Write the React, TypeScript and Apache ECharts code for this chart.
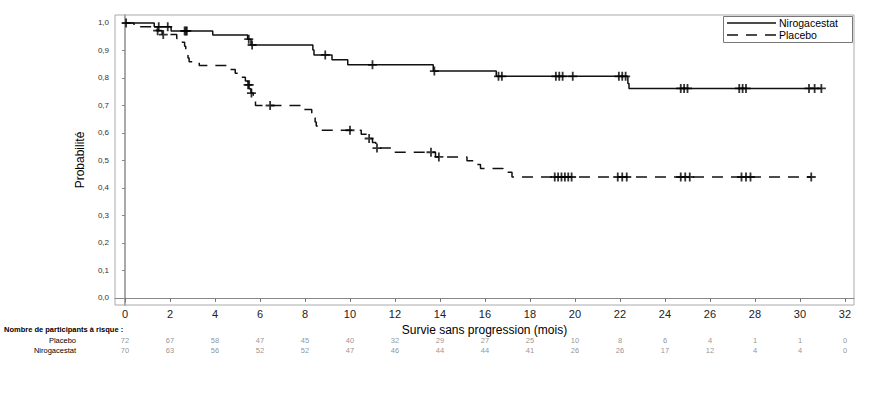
import React, { useEffect, useRef } from "react";
import * as echarts from "echarts";

const monthTicks = [0, 2, 4, 6, 8, 10, 12, 14, 16, 18, 20, 22, 24, 26, 28, 30, 32];
const probTicks = [0, 0.1, 0.2, 0.3, 0.4, 0.5, 0.6, 0.7, 0.8, 0.9, 1.0];

const riskPlacebo = [72, 67, 58, 47, 45, 40, 32, 29, 27, 25, 10, 8, 6, 4, 1, 1, 0];
const riskNiro = [70, 63, 56, 52, 52, 47, 46, 44, 44, 41, 26, 26, 17, 12, 4, 4, 0];

// Kaplan-Meier steps: [time (months), survival after the step]
const niroSteps: [number, number][] = [
  [0, 1.0], [1.3, 0.986], [2.05, 0.971], [3.9, 0.956], [5.45, 0.941], [5.6, 0.92],
  [8.35, 0.902], [8.4, 0.884], [9.2, 0.866], [9.9, 0.848], [13.7, 0.825],
  [16.5, 0.806], [22.35, 0.78], [22.4, 0.762],
];
const niroEnd = 30.95;
const niroCensor = [
  0.05, 1.5, 1.9, 2.65, 2.7, 2.75, 5.5, 5.65, 8.9, 11.0, 13.75, 16.6, 16.75,
  19.15, 19.3, 19.45, 19.9, 21.95, 22.1, 22.25, 24.7, 24.85, 25.0, 27.3, 27.45,
  27.6, 30.4, 30.65, 30.95,
];

const placeboSteps: [number, number][] = [
  [0, 1.0], [0.4, 0.986], [1.4, 0.972], [1.65, 0.958], [2.3, 0.944], [2.55, 0.93],
  [2.65, 0.915], [2.7, 0.901], [2.75, 0.887], [2.8, 0.873], [2.85, 0.859],
  [3.3, 0.845], [4.6, 0.831], [4.9, 0.817], [5.15, 0.803], [5.35, 0.789],
  [5.45, 0.775], [5.55, 0.76], [5.6, 0.745], [5.7, 0.73], [5.75, 0.715],
  [5.8, 0.7], [7.9, 0.685], [8.3, 0.67], [8.4, 0.655], [8.45, 0.64], [8.5, 0.625],
  [8.55, 0.61], [10.5, 0.595], [10.75, 0.58], [11.0, 0.565], [11.15, 0.545],
  [11.9, 0.53], [13.8, 0.513], [15.2, 0.499], [15.5, 0.485], [15.8, 0.471],
  [16.8, 0.457], [17.2, 0.44],
];
const placeboEnd = 30.5;
const placeboCensor = [
  1.45, 1.7, 5.47, 5.52, 5.62, 6.45, 10.0, 10.85, 11.2, 13.6, 13.95,
  19.1, 19.25, 19.4, 19.55, 19.7, 19.85, 21.9, 22.1, 22.3, 24.7, 24.9, 25.1,
  27.4, 27.6, 27.8, 30.5,
];

const FONT = '"Liberation Sans", Arial, Helvetica, sans-serif';
const PLUS = "path://M4,0 H6 V4 H10 V6 H6 V10 H4 V6 H0 V4 H4 Z";

function survivalAt(steps: [number, number][], t: number): number {
  let s = steps[0][1];
  for (const [time, val] of steps) {
    if (time <= t) s = val;
  }
  return s;
}

function lineData(steps: [number, number][], end: number) {
  const last = steps[steps.length - 1][1];
  return [...steps.map((p) => [p[0], p[1]]), [end, last]];
}

export default function App() {
  const ref = useRef<HTMLDivElement>(null);
  useEffect(() => {
    document.body.style.margin = "0";
    const chart = echarts.init(ref.current!, null, { renderer: "svg" });
    const option: any = {
      animation: false,
      textStyle: { fontFamily: FONT },
      grid: [
        {
          left: 115, right: 32, top: 15, bottom: 90,
          show: true, borderColor: "#aaa", borderWidth: 1, backgroundColor: "#fff",
        },
        { left: 115, right: 32, top: 335, height: 20 },
      ],
      xAxis: [
        {
          type: "value", gridIndex: 0, min: -0.444, max: 32.4,
          axisLine: { show: true, lineStyle: { color: "#888", width: 1 } },
          axisTick: { show: true, customValues: monthTicks, length: 4, lineStyle: { color: "#777" } },
          axisLabel: {
            show: true, customValues: monthTicks, fontSize: 11, color: "#222", margin: 3,
          },
          splitLine: { show: false },
          name: "Survie sans progression (mois)",
          nameLocation: "middle",
          nameGap: 16,
          nameTextStyle: { fontSize: 12, color: "#000", fontFamily: FONT },
        },
        {
          type: "value", gridIndex: 1, min: -0.444, max: 32.4, show: false,
        },
      ],
      yAxis: [
        {
          type: "value", gridIndex: 0, min: -0.0255, max: 1.029,
          axisLine: { show: true, lineStyle: { color: "#aaa", width: 2 } },
          axisTick: { show: true, customValues: probTicks, length: 3, lineStyle: { color: "#888" } },
          axisLabel: {
            show: true, customValues: probTicks, fontSize: 8, color: "#333", margin: 6,
            formatter: (v: number) => v.toFixed(1).replace(".", ","),
          },
          splitLine: { show: false },
          name: "Probabilité",
          nameLocation: "middle",
          nameGap: 29,
          nameRotate: 90,
          nameTextStyle: { fontSize: 12, color: "#000", fontFamily: FONT },
        },
        {
          type: "category", gridIndex: 1, data: ["Nirogacestat", "Placebo"],
          axisLine: { show: false }, axisTick: { show: false },
          axisLabel: { fontSize: 7.5, color: "#000", margin: 39, interval: 0, hideOverlap: false },
        },
      ],
      series: [
        {
          name: "Nirogacestat", type: "line", step: "end", xAxisIndex: 0, yAxisIndex: 0,
          data: lineData(niroSteps, niroEnd), showSymbol: false, symbol: "none",
          lineStyle: { color: "#111", width: 1.5, type: "solid" }, silent: true, z: 3,
        },
        {
          name: "Placebo", type: "line", step: "end", xAxisIndex: 0, yAxisIndex: 0,
          data: lineData(placeboSteps, placeboEnd), showSymbol: false, symbol: "none",
          lineStyle: { color: "#111", width: 1.5, type: [11, 8] }, silent: true, z: 3,
        },
        {
          name: "Nirogacestat censurés", type: "scatter", xAxisIndex: 0, yAxisIndex: 0,
          data: niroCensor.map((t) => [t, survivalAt(niroSteps, t)]),
          symbol: PLUS, symbolSize: 9, itemStyle: { color: "#000" }, silent: true, z: 4,
        },
        {
          name: "Placebo censurés", type: "scatter", xAxisIndex: 0, yAxisIndex: 0,
          data: placeboCensor.map((t) => [t, survivalAt(placeboSteps, t)]),
          symbol: PLUS, symbolSize: 9, itemStyle: { color: "#000" }, silent: true, z: 4,
        },
        {
          name: "risk-placebo", type: "scatter", xAxisIndex: 1, yAxisIndex: 1,
          data: riskPlacebo.map((n, i) => [monthTicks[i], "Placebo", n]),
          symbolSize: 1, itemStyle: { color: "rgba(0,0,0,0)" }, silent: true,
          label: {
            show: true, position: "inside", fontSize: 7.5, color: "#777",
            formatter: (p: any) => String(p.value[2]),
          },
        },
        {
          name: "risk-niro", type: "scatter", xAxisIndex: 1, yAxisIndex: 1,
          data: riskNiro.map((n, i) => [monthTicks[i], "Nirogacestat", n]),
          symbolSize: 1, itemStyle: { color: "rgba(0,0,0,0)" }, silent: true,
          label: {
            show: true, position: "inside", fontSize: 7.5, color: "#777",
            formatter: (p: any) => String(p.value[2]),
          },
        },
      ],
      graphic: [
        {
          type: "rect", left: 723, top: 16, z: 10,
          shape: { width: 129, height: 26 },
          style: { fill: "#fff", stroke: "#777", lineWidth: 1 },
        },
        {
          type: "line", z: 11,
          shape: { x1: 727, y1: 23, x2: 776, y2: 23 },
          style: { stroke: "#111", lineWidth: 1.5 },
        },
        {
          type: "line", z: 11,
          shape: { x1: 727, y1: 35, x2: 776, y2: 35 },
          style: { stroke: "#111", lineWidth: 1.5, lineDash: [11, 8] },
        },
        {
          type: "text", x: 779, y: 23, z: 11,
          style: {
            text: "Nirogacestat", fontSize: 10.5, fontFamily: FONT, fill: "#000",
            verticalAlign: "middle", align: "left",
          },
        },
        {
          type: "text", x: 779, y: 35, z: 11,
          style: {
            text: "Placebo", fontSize: 10.5, fontFamily: FONT, fill: "#000",
            verticalAlign: "middle", align: "left",
          },
        },
        {
          type: "text", x: 4, y: 329, z: 11,
          style: {
            text: "Nombre de participants à risque :", fontSize: 7.5, fontWeight: "bold",
            fontFamily: FONT, fill: "#000", verticalAlign: "middle", align: "left",
          },
        },
      ],
    };
    chart.setOption(option);
    return () => chart.dispose();
  }, []);
  return <div ref={ref} style={{ width: 886, height: 395 }} />;
}
